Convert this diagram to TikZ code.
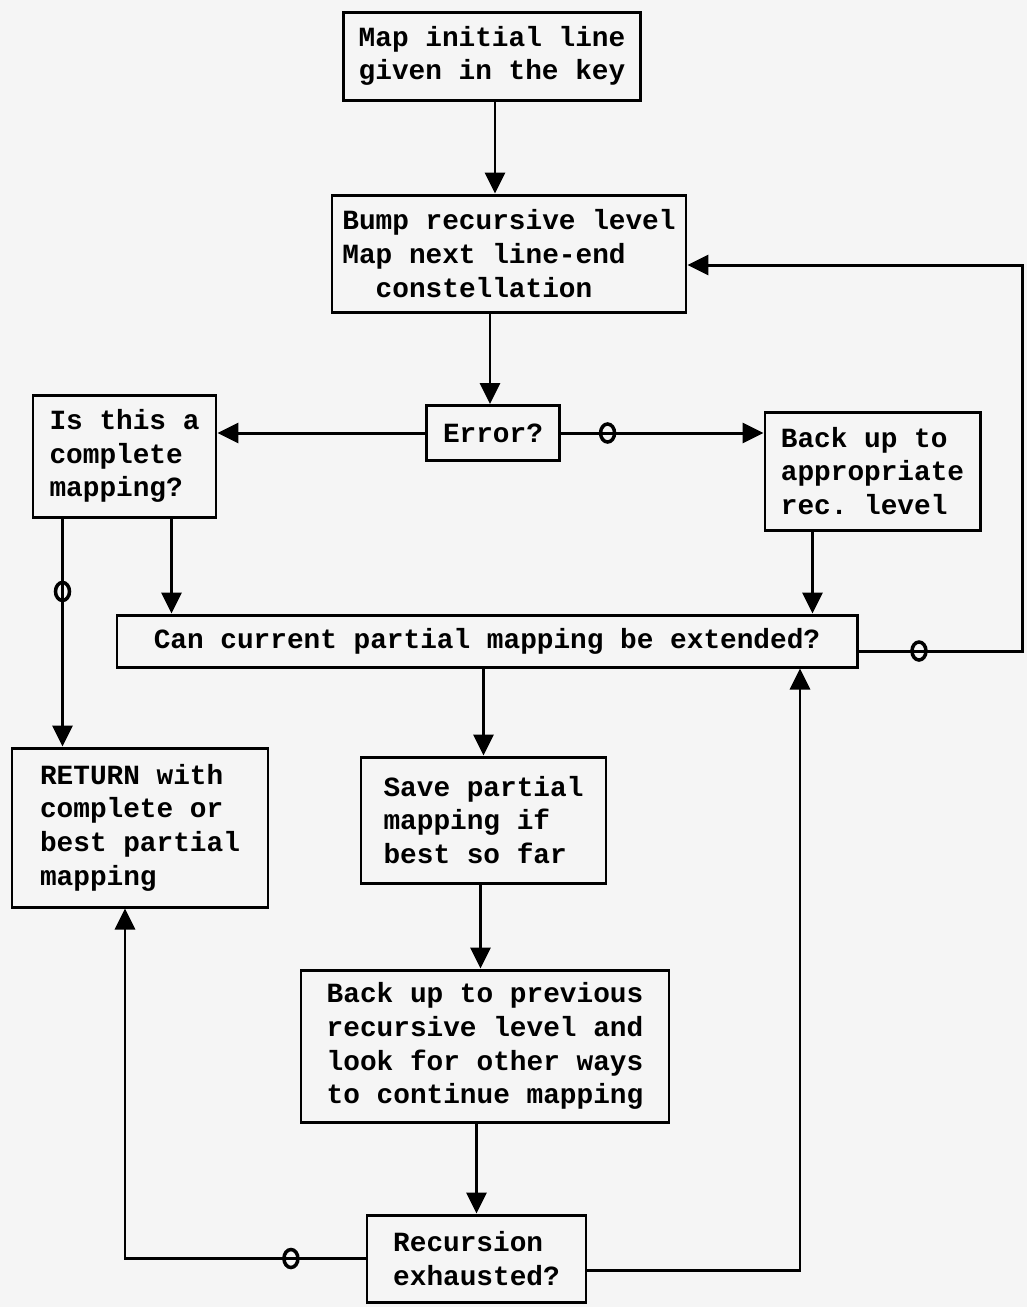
\documentclass[tikz,border=0pt]{standalone}
\usepackage{fontspec}
\setmonofont{Liberation Mono}
\usetikzlibrary{arrows.meta,shapes.geometric}
\begin{document}
\begin{tikzpicture}[
  box/.style={draw, line width=1.7pt, align=left, inner sep=0pt, font=\fontsize{15.8}{19.2}\selectfont\ttfamily\bfseries},
  flow/.style={line width=1.7pt, -{Triangle[length=0.42cm, width=0.4cm]}},
  ring/.style={draw, ellipse, line width=2pt, minimum width=0.28cm, minimum height=0.36cm, inner sep=0pt}
]
\fill[black!4] (0,0) rectangle (20.54,-26.14);
\useasboundingbox (0,0) rectangle (20.54,-26.14);

\node[box, minimum width=5.94cm, minimum height=1.76cm] (map) at (9.84,-1.12) {Map initial line\\given in the key};
\node[box, minimum width=7.08cm, minimum height=2.34cm] (bump) at (10.18,-5.07) {Bump recursive level\\Map next line-end\\\phantom{xx}constellation};
\node[box, minimum width=2.66cm, minimum height=1.10cm] (error) at (9.86,-8.66) {Error?};
\node[box, minimum width=3.66cm, minimum height=2.44cm] (complete) at (2.49,-9.12) {Is this a\\complete\\mapping?};
\node[box, minimum width=4.30cm, minimum height=2.36cm] (backup) at (17.45,-9.42) {Back up to\\appropriate\\rec. level};
\node[box, minimum width=14.8cm, minimum height=1.04cm] (extend) at (9.74,-12.82) {Can current partial mapping be extended?};
\node[box, minimum width=5.12cm, minimum height=3.18cm] (ret) at (2.80,-16.55) {RETURN with\\complete or\\best partial\\mapping};
\node[box, minimum width=4.90cm, minimum height=2.52cm] (save) at (9.67,-16.40) {Save partial\\mapping if\\best so far};
\node[box, minimum width=7.36cm, minimum height=3.04cm] (prev) at (9.70,-20.92) {Back up to previous\\recursive level and\\look for other ways\\to continue mapping};
\node[box, minimum width=4.38cm, minimum height=1.74cm] (exh) at (9.53,-25.17) {Recursion\\exhausted?};

\coordinate (rloop) at (16.00,-25.40);
\coordinate (edge) at (20.44,-13.02);
\coordinate (edgetop) at (20.44,-5.30);

\draw[flow] ([xshift=0.06cm]map.south) -- ([xshift=0.06cm]map.south |- bump.north);
\draw[flow] ([xshift=-0.06cm]error.north |- bump.south) -- ([xshift=-0.06cm]error.north);
\draw[flow] (error.west) -- (complete.east |- error.west);
\draw[flow] (error.east) -- node[ring, pos=0.23] {} (backup.west |- error.east);
\draw[flow] ([xshift=0.94cm]complete.south) -- ([xshift=0.94cm]complete.south |- extend.north);
\draw[flow] ([xshift=-1.24cm]complete.south) -- node[ring, pos=0.32] {} ([xshift=-1.24cm]complete.south |- ret.north);
\draw[flow] ([xshift=-1.2cm]backup.south) -- ([xshift=-1.2cm]backup.south |- extend.north);
\draw[flow] (extend.south -| save.north) -- (save.north);
\draw[flow] ([xshift=-0.06cm]save.south) -- ([xshift=-0.06cm]save.south |- prev.north);
\draw[flow] (prev.south -| exh.north) -- (exh.north);
\draw[flow] (exh.west) -- node[ring, pos=0.31] {} ([xshift=-0.3cm]ret.south |- exh.west) -- ([xshift=-0.3cm]ret.south);
\draw[flow] (exh.east |- rloop) -- (rloop) -- (rloop |- extend.south);
\draw[flow] (extend.east |- edge) -- node[ring, pos=0.37] {} (edge) -- (edgetop) -- (bump.east |- edgetop);
\end{tikzpicture}
\end{document}
